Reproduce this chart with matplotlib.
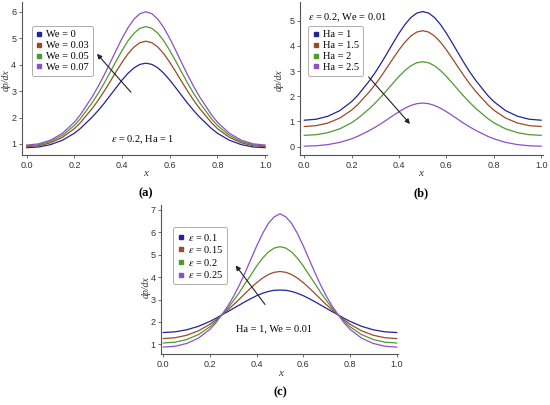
import matplotlib
matplotlib.use("Agg")
import matplotlib.pyplot as plt
from matplotlib.lines import Line2D

plt.rcParams["mathtext.fontset"] = "stix"
SERIF = "Liberation Serif"
SANS = "Liberation Sans"

# sample positions along x (denser on the flanks and near the peak)
X = [0, .05, .1, .15, .2, .225, .25, .275, .3, .325, .35, .375, .4, .425, .45, .475, .5,
     .525, .55, .575, .6, .625, .65, .675, .7, .725, .75, .775, .8, .85, .9, .95, 1.0]

# (a) eps = 0.2, Ha = 1, varying We
WE_LABELS = ["We = 0", "We = 0.03", "We = 0.05", "We = 0.07"]
A_WE0 = [0.86, 0.888, 0.977, 1.142, 1.407, 1.585, 1.801, 2.018, 2.266, 2.538, 2.830, 3.127, 3.414, 3.670, 3.874, 4.005, 4.05,
         4.005, 3.874, 3.670, 3.414, 3.127, 2.830, 2.538, 2.266, 2.018, 1.801, 1.585, 1.407, 1.142, 0.977, 0.888, 0.86]
A_WE3 = [0.90, 0.935, 1.046, 1.252, 1.582, 1.805, 2.074, 2.345, 2.654, 2.994, 3.358, 3.728, 4.086, 4.406, 4.660, 4.823, 4.88,
         4.823, 4.660, 4.406, 4.086, 3.728, 3.358, 2.994, 2.654, 2.345, 2.074, 1.805, 1.582, 1.252, 1.046, 0.935, 0.90]
A_WE5 = [0.93, 0.970, 1.095, 1.328, 1.701, 1.953, 2.258, 2.564, 2.913, 3.297, 3.709, 4.128, 4.533, 4.894, 5.181, 5.366, 5.43,
         5.366, 5.181, 4.894, 4.533, 4.128, 3.709, 3.297, 2.913, 2.564, 2.258, 1.953, 1.701, 1.328, 1.095, 0.970, 0.93]
A_WE7 = [0.96, 1.005, 1.144, 1.405, 1.822, 2.104, 2.444, 2.786, 3.177, 3.606, 4.066, 4.534, 4.987, 5.390, 5.712, 5.918, 5.99,
         5.918, 5.712, 5.390, 4.987, 4.534, 4.066, 3.606, 3.177, 2.786, 2.444, 2.104, 1.822, 1.405, 1.144, 1.005, 0.96]

# (b) eps = 0.2, We = 0.01, varying Ha
HA_LABELS = ["Ha = 1", "Ha = 1.5", "Ha = 2", "Ha = 2.5"]
B_HA1 = [1.05, 1.088, 1.208, 1.431, 1.789, 2.030, 2.321, 2.615, 2.949, 3.318, 3.711, 4.113, 4.501, 4.846, 5.122, 5.299, 5.36,
         5.299, 5.122, 4.846, 4.501, 4.113, 3.711, 3.318, 2.949, 2.615, 2.321, 2.030, 1.789, 1.431, 1.208, 1.088, 1.05]
B_HA15 = [0.80, 0.834, 0.939, 1.136, 1.451, 1.664, 1.921, 2.180, 2.475, 2.799, 3.147, 3.500, 3.842, 4.147, 4.390, 4.546, 4.60,
          4.546, 4.390, 4.147, 3.842, 3.500, 3.147, 2.799, 2.475, 2.180, 1.921, 1.664, 1.451, 1.136, 0.939, 0.834, 0.80]
B_HA2 = [0.45, 0.476, 0.557, 0.708, 0.950, 1.114, 1.311, 1.510, 1.737, 1.986, 2.253, 2.525, 2.788, 3.022, 3.209, 3.329, 3.37,
         3.329, 3.209, 3.022, 2.788, 2.525, 2.253, 1.986, 1.737, 1.510, 1.311, 1.114, 0.950, 0.708, 0.557, 0.476, 0.45]
B_HA25 = [0.02, 0.035, 0.083, 0.171, 0.313, 0.409, 0.524, 0.641, 0.774, 0.920, 1.076, 1.235, 1.389, 1.526, 1.635, 1.706, 1.73,
          1.706, 1.635, 1.526, 1.389, 1.235, 1.076, 0.920, 0.774, 0.641, 0.524, 0.409, 0.313, 0.171, 0.083, 0.035, 0.02]

# (c) Ha = 1, We = 0.01, varying eps
EPS_LABELS = [r"$\varepsilon$ = 0.1", r"$\varepsilon$ = 0.15", r"$\varepsilon$ = 0.2", r"$\varepsilon$ = 0.25"]
C_E10 = [1.526, 1.556, 1.647, 1.802, 2.024, 2.159, 2.31, 2.451, 2.599, 2.750, 2.900, 3.041, 3.170, 3.278, 3.360, 3.412, 3.42,
         3.412, 3.360, 3.278, 3.170, 3.041, 2.900, 2.750, 2.599, 2.451, 2.31, 2.159, 2.024, 1.802, 1.647, 1.556, 1.526]
C_E15 = [1.257, 1.293, 1.403, 1.599, 1.897, 2.088, 2.31, 2.525, 2.760, 3.009, 3.266, 3.517, 3.751, 3.955, 4.115, 4.216, 4.25,
         4.216, 4.115, 3.955, 3.751, 3.517, 3.266, 3.009, 2.760, 2.525, 2.31, 2.088, 1.897, 1.599, 1.403, 1.293, 1.257]
C_E20 = [1.06, 1.095, 1.212, 1.430, 1.784, 2.025, 2.31, 2.602, 2.940, 3.301, 3.705, 4.092, 4.495, 4.842, 5.119, 5.298, 5.36,
         5.298, 5.119, 4.842, 4.495, 4.092, 3.705, 3.301, 2.940, 2.602, 2.31, 2.025, 1.784, 1.430, 1.212, 1.095, 1.06]
C_E25 = [0.875, 0.913, 1.037, 1.272, 1.671, 1.955, 2.31, 2.683, 3.122, 3.629, 4.191, 4.791, 5.389, 5.941, 6.395, 6.690, 6.83,
         6.690, 6.395, 5.941, 5.389, 4.791, 4.191, 3.629, 3.122, 2.683, 2.31, 1.955, 1.671, 1.272, 1.037, 0.913, 0.875]

COLORS = ["#23239a", "#9a4a28", "#4f9a2e", "#8c50c8"]
AX_GREY = "#555555"


def style_axes(ax, xlim, ylim, yticks):
    ax.set_xlim(*xlim); ax.set_ylim(*ylim)
    ax.set_xticks([0, 0.2, 0.4, 0.6, 0.8, 1.0])
    ax.set_xticklabels(["0.0", "0.2", "0.4", "0.6", "0.8", "1.0"])
    ax.set_yticks(yticks)
    ax.spines[["top", "right"]].set_visible(False)
    for s in ("left", "bottom"):
        ax.spines[s].set_color(AX_GREY); ax.spines[s].set_linewidth(0.8)
    ax.tick_params(length=2, width=0.6, color=AX_GREY, labelsize=6.5, labelcolor="#333333", pad=2)
    for lab in ax.get_xticklabels() + ax.get_yticklabels():
        lab.set_fontfamily(SANS)


def draw_legend(ax, labels, anchor):
    handles = [Line2D([], [], ls="none", marker="s", ms=3.5, color=c) for c in COLORS]
    leg = ax.legend(handles, labels, loc="upper left", bbox_to_anchor=anchor, frameon=True,
                    fancybox=True, shadow=False, handlelength=0.6, handletextpad=0.4,
                    labelspacing=0.15, borderpad=0.4, borderaxespad=0,
                    prop={"family": SERIF, "size": 7.5})
    leg.get_frame().set_edgecolor("#999999"); leg.get_frame().set_linewidth(0.7)


def arrow(ax, tail, head):
    ax.annotate("", xy=head, xytext=tail,
                arrowprops=dict(arrowstyle="-|>", color="#222222", lw=0.8, mutation_scale=7))


fig = plt.figure(figsize=(5.5, 4.05), dpi=100)

# panel (a)
ax = fig.add_axes([0.0395, 0.6173, 0.4455, 0.3778])
for ys, c in zip([A_WE0, A_WE3, A_WE5, A_WE7], COLORS):
    ax.plot(X, ys, color=c, lw=0.9)
style_axes(ax, (-0.021, 1.007), (0.585, 6.36), [1, 2, 3, 4, 5, 6])
draw_legend(ax, WE_LABELS, (0.041, 0.843))
arrow(ax, (0.445, 2.875), (0.287, 4.48))
ax.text(0.486, 1.15, r"$\varepsilon$ = 0.2, Ha = 1", family=SERIF, fontsize=7.5, ha="center", va="center")

# panel (b)
ax = fig.add_axes([0.5455, 0.6173, 0.4418, 0.3778])
for ys, c in zip([B_HA1, B_HA15, B_HA2, B_HA25], COLORS):
    ax.plot(X, ys, color=c, lw=0.9)
style_axes(ax, (-0.018, 1.008), (-0.33, 5.74), [0, 1, 2, 3, 4, 5])
draw_legend(ax, HA_LABELS, (0.034, 0.843))
arrow(ax, (0.264, 2.85), (0.454, 0.82))
ax.text(0.016, 5.1, r"$\varepsilon$ = 0.2, We = 0.01", family=SERIF, fontsize=7.5, ha="left", va="center")

# panel (c)
ax = fig.add_axes([0.2927, 0.1252, 0.4315, 0.3686])
for ys, c in zip([C_E10, C_E15, C_E20, C_E25], COLORS):
    ax.plot(X, ys, color=c, lw=0.9)
style_axes(ax, (-0.01, 1.007), (0.554, 7.22), [1, 2, 3, 4, 5, 6, 7])
draw_legend(ax, EPS_LABELS, (0.052, 0.85))
arrow(ax, (0.443, 2.68), (0.303, 4.62))
ax.text(0.475, 1.71, "Ha = 1, We = 0.01", family=SERIF, fontsize=7.5, ha="center", va="center")

# axis labels and panel tags (figure pixel positions)
W, H = 550.0, 405.0
for (lx, ly), (xx, xy), (tx, ty), tag in [((6.5, 80), (145.7, 173), (145.7, 193), "(a)"),
                                          ((279, 80), (420.7, 173), (420.7, 193), "(b)"),
                                          ((146, 287), (280.7, 373), (280.7, 392), "(c)")]:
    fig.text(lx / W, 1 - ly / H, "dp/dx", family=SERIF, style="italic", fontsize=7,
             rotation=90, ha="center", va="center", color="#333333")
    fig.text(xx / W, 1 - xy / H, "x", family=SERIF, style="italic", fontsize=8,
             ha="center", va="center", color="#333333")
    fig.text(tx / W, 1 - ty / H, tag, family=SERIF, fontweight="bold", fontsize=9,
             ha="center", va="center")

fig.savefig("out.png", dpi=100, facecolor="white")
